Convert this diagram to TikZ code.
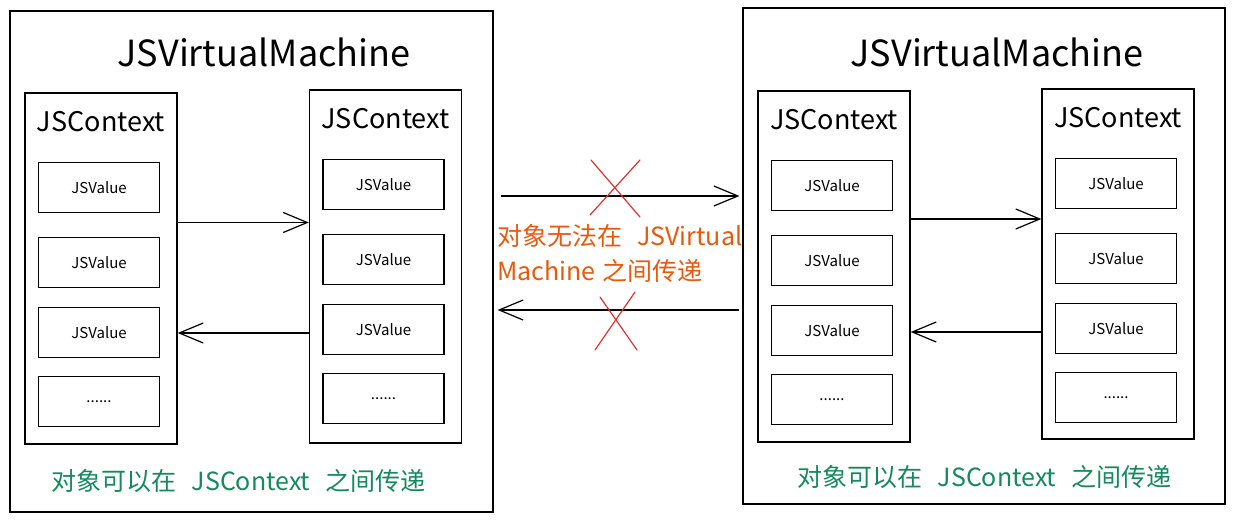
\documentclass[tikz,border=0pt]{standalone}
\usepackage{fontspec}
\newfontfamily\cjk{Noto Sans CJK SC}
\usetikzlibrary{arrows.meta, positioning}
\definecolor{okgreen}{HTML}{138A5E}
\definecolor{nogo}{HTML}{E8590C}
\definecolor{crossred}{HTML}{E03131}

\begin{document}
\begin{tikzpicture}[x=1pt, y=-1pt,
    every node/.style={font=\cjk, inner sep=0pt},
    vmbox/.style={draw, line width=1.2pt},
    ctxbox/.style={draw, line width=1.4pt, minimum width=152pt},
    valbox/.style={draw, line width=1.3pt, minimum width=121pt, minimum height=50pt, font=\cjk\fontsize{15}{15}\selectfont},
    vmtitle/.style={font=\cjk\fontsize{36}{36}\selectfont},
    ctxtitle/.style={font=\cjk\fontsize{27}{27}\selectfont},
    note/.style={font=\cjk\fontsize{25}{25}\selectfont},
    flow/.style={line width=1.2pt, -{Straight Barb[length=24pt, width=20pt, line width=1.2pt]}},
    cross/.style={crossred, line width=1.2pt, line cap=round}]
    \useasboundingbox (0,0) rectangle (1235,522);

    % two virtual machines
    \node[vmbox, minimum width=483pt, minimum height=501pt] (vmL) at (251.5,261.5) {};
    \node[vmbox, minimum width=482pt, minimum height=496pt] (vmR) at (984,256) {};
    \node[vmtitle] (vmLt) at (264,52) {JSVirtualMachine};
    \node[vmtitle] (vmRt) at (997,52) {JSVirtualMachine};

    % contexts
    \node[ctxbox, minimum height=351pt] (L1) at (101,268.5) {};
    \node[ctxbox, minimum height=353pt] (L2) at (385.5,266.5) {};
    \node[ctxbox, minimum height=351pt] (R1) at (834,266.5) {};
    \node[ctxbox, minimum height=350pt] (R2) at (1118,264) {};
    \foreach \ctx in {L1,L2,R1,R2}{
        \node[ctxtitle] (\ctx t) at ([shift={(0,29)}]\ctx.north) {JSContext};
        \foreach \dy [count=\i] in {95,170,240}{
            \node[valbox] (\ctx v\i) at ([shift={(-2,\dy)}]\ctx.north) {JSValue};
        }
        \node[valbox] (\ctx v4) at ([shift={(-2,309)}]\ctx.north) {......};
    }

    % inside one machine
    \draw[flow] ([shift={(0,-46)}]L1.east) -- ([shift={(0,-44)}]L2.west);
    \draw[flow] ([shift={(0,66.5)}]L2.west) -- ([shift={(0,64.5)}]L1.east);
    \draw[flow] ([shift={(0,-47.5)}]R1.east) -- ([shift={(0,-45)}]R2.west);
    \draw[flow] ([shift={(0,68)}]R2.west) -- ([shift={(0,65.5)}]R1.east);
    \node[note, text=okgreen, anchor=base] (okL) at (238.5,490) {对象可以在\hspace{0.6em}JSContext\hspace{0.6em}之间传递};
    \node[note, text=okgreen, anchor=base] (okR) at (984.5,486) {对象可以在\hspace{0.6em}JSContext\hspace{0.6em}之间传递};

    % between machines
    \draw[flow] ([shift={(7,-65.5)}]vmL.east) -- ([shift={(-3,-60)}]vmR.west);
    \draw[flow] ([shift={(-3,54)}]vmR.west) -- ([shift={(4,48.5)}]vmL.east);
    \coordinate (xTop) at (615,188);
    \coordinate (xBot) at (616,321);
    \draw[cross] ([shift={(-24,-28)}]xTop) -- ([shift={(25,29)}]xTop);
    \draw[cross] ([shift={(25,-28)}]xTop) -- ([shift={(-25,27)}]xTop);
    \draw[cross] ([shift={(-16,-24)}]xBot) -- ([shift={(21,29)}]xBot);
    \draw[cross] ([shift={(19,-29)}]xBot) -- ([shift={(-21,29)}]xBot);
    \node[note, text=nogo, anchor=base west] (nogoA) at (497,245) {对象无法在\hspace{0.6em}JSVirtual};
    \node[note, text=nogo, anchor=base west] (nogoB) at (497,280) {Machine\hspace{0.3em}之间传递};
\end{tikzpicture}
\end{document}
